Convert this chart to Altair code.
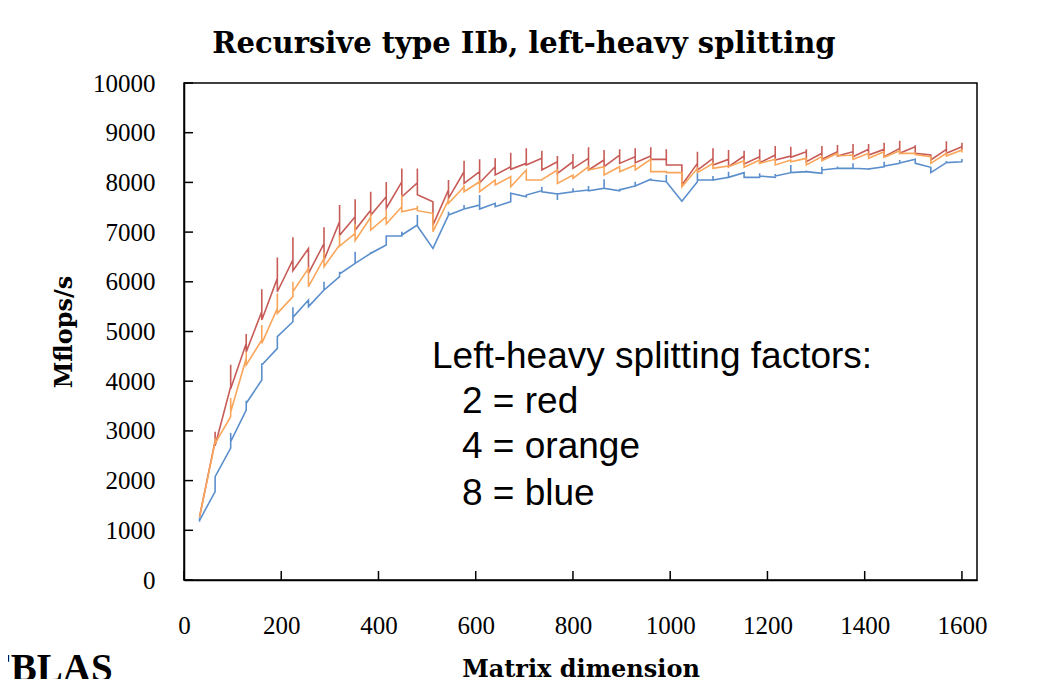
import altair as alt
import pandas as pd

# Matrix dimensions (x)
dims = [32, 64, 96, 128, 160, 192, 224, 256, 288, 320, 352, 384, 416, 448, 480, 512,
        544, 576, 608, 640, 672, 704, 736, 768, 800, 832, 864, 896, 928, 960, 992, 1024,
        1056, 1088, 1120, 1152, 1184, 1216, 1248, 1280, 1312, 1344, 1376, 1408, 1440, 1472,
        1504, 1536, 1568, 1600]

# Splitting factor 2 (red): value before, at, and after each dimension
red_pre = [1270, 2800, 3890, 4760, 5400, 6070, 6440, 6670, 6770, 7210, 7310, 7440, 7710, 8010, 7990, 7610,
           7850, 8216, 8216, 8316, 8316, 8383, 8484, 8416, 8416, 8484, 8451, 8551, 8518, 8531, 8464, 8350,
           8383, 8484, 8464, 8531, 8518, 8551, 8531, 8618, 8585, 8618, 8618, 8665, 8665, 8685,
           8719, 8551, 8665, 8719]
red_peak = [1270, 2985, 4330, 4950, 5850, 6490, 6895, 6670, 7100, 7545, 7660, 7810, 8010, 8280, 8280, 7610,
            8050, 8437, 8464, 8484, 8598, 8685, 8638, 8531, 8571, 8706, 8652, 8665, 8685, 8706, 8665, 8350,
            8618, 8685, 8652, 8638, 8665, 8732, 8718, 8665, 8732, 8752, 8772, 8772, 8799, 8839,
            8750, 8551, 8826, 8800]
red_post = [1270, 2700, 3850, 4590, 5230, 5800, 6225, 6170, 6440, 6935, 7040, 7340, 7480, 7710, 7750, 7140,
            7680, 7980, 7994, 8149, 8263, 8350, 8249, 8183, 8283, 8249, 8316, 8383, 8397, 8464, 8350, 7948,
            8249, 8350, 8316, 8370, 8397, 8451, 8504, 8417, 8464, 8531, 8518, 8551, 8518, 8585,
            8585, 8451, 8585, 8650]

# Splitting factor 4 (orange)
orange_pre = [1270, 2780, 3286, 4460, 4829, 5466, 5701, 6271, 6472, 6740, 6975, 7300, 7310, 7511, 7478, 7378,
              7646, 7913, 8014, 8048, 8115, 8249, 8048, 8249, 8149, 8316, 8316, 8316, 8350, 8464, 8216, 8196,
              8283, 8383, 8330, 8437, 8451, 8464, 8451, 8484, 8518, 8585, 8551, 8585, 8618, 8638,
              8585, 8518, 8585, 8652]
orange_peak = [1270, 2850, 3662, 4594, 5131, 5768, 6003, 6271, 6606, 6940, 7163, 7380, 7444, 7746, 7530, 7378,
               7680, 7950, 8050, 8048, 8115, 8249, 8060, 8249, 8149, 8316, 8316, 8316, 8350, 8464, 8216, 8196,
               8283, 8383, 8330, 8437, 8451, 8464, 8451, 8484, 8518, 8585, 8551, 8585, 8618, 8638,
               8585, 8518, 8585, 8652]
orange_post = [1270, 2750, 3380, 4326, 4762, 5365, 5801, 5902, 6304, 6720, 6827, 7042, 7163, 7411, 7431, 7008,
               7579, 7813, 7813, 7948, 7913, 8048, 8055, 7980, 8082, 8249, 8149, 8216, 8249, 8216, 8196, 7913,
               8196, 8283, 8316, 8303, 8383, 8350, 8417, 8350, 8437, 8531, 8464, 8484, 8504, 8585,
               8560, 8383, 8531, 8600]

# Splitting factor 8 (blue)
blue_pre = [1260, 1780, 2655, 3420, 4024, 4661, 5197, 5634, 5835, 6103, 6372, 6573, 6740, 6922, 7143, 6673,
            7344, 7465, 7545, 7579, 7612, 7712, 7833, 7767, 7813, 7847, 7880, 7833, 7928, 8062, 8014, 7620,
            8014, 8048, 8102, 8196, 8102, 8102, 8196, 8216, 8183, 8283, 8283, 8270, 8316, 8383,
            8464, 8303, 8397, 8417]
blue_peak = [1170, 2080, 2958, 3608, 4360, 4909, 5486, 5634, 6003, 6204, 6606, 6600, 6922, 7008, 7344, 6673,
             7411, 7545, 7746, 7579, 7780, 7712, 7913, 7646, 7880, 7928, 8062, 7870, 8014, 8062, 8149, 7620,
             8183, 8129, 8216, 8196, 8183, 8170, 8350, 8240, 8316, 8320, 8383, 8250, 8417, 8450,
             8464, 8303, 8430, 8470]
blue_post = [1200, 2080, 2783, 3555, 4326, 4896, 5285, 5500, 5835, 6157, 6372, 6573, 6922, 6942, 7123, 6673,
             7344, 7465, 7465, 7512, 7780, 7746, 7813, 7767, 7813, 7833, 7880, 7850, 7928, 8048, 8014, 7620,
             8048, 8048, 8102, 8102, 8129, 8129, 8196, 8216, 8250, 8283, 8283, 8270, 8330, 8390,
             8383, 8196, 8397, 8440]

x_ticks = [0, 200, 400, 600, 800, 1000, 1200, 1400, 1600]
y_ticks = [0, 1000, 2000, 3000, 4000, 5000, 6000, 7000, 8000, 9000, 10000]

series_names = ["2", "4", "8"]
series_colors = ["#C65B57", "#F9A65A", "#5B8FCC"]

rows = []
for name, pre, peak, post in [("2", red_pre, red_peak, red_post),
                              ("4", orange_pre, orange_peak, orange_post),
                              ("8", blue_pre, blue_peak, blue_post)]:
    for i, d in enumerate(dims):
        rows.append({"series": name, "x": d, "y": pre[i], "o": 3 * i})
        rows.append({"series": name, "x": d, "y": peak[i], "o": 3 * i + 1})
        rows.append({"series": name, "x": d, "y": post[i], "o": 3 * i + 2})
df = pd.DataFrame(rows)

W, H = 793, 497
xscale = alt.Scale(domain=[0, 1631], nice=False, zero=False)
yscale = alt.Scale(domain=[0, 10000], nice=False)

axis_common = dict(ticks=False, grid=False, title=None, format="d", labelFlush=False,
                   labelFont="Liberation Serif", labelFontSize=25, labelColor="black",
                   domainColor="black", domainWidth=1.5)

lines = alt.Chart(df).mark_line(strokeWidth=1.6).encode(
    x=alt.X("x:Q", scale=xscale,
            axis=alt.Axis(values=x_ticks, labelPadding=33, **axis_common)),
    y=alt.Y("y:Q", scale=yscale,
            axis=alt.Axis(values=y_ticks, labelPadding=29, **axis_common)),
    color=alt.Color("series:N", scale=alt.Scale(domain=series_names, range=series_colors), legend=None),
    order="o:Q",
)

yt = alt.Chart(pd.DataFrame({"v": y_ticks})).mark_rule(color="black", strokeWidth=1.5).encode(
    y=alt.Y("v:Q", scale=yscale), x=alt.value(0), x2=alt.value(9))
xt = alt.Chart(pd.DataFrame({"v": x_ticks})).mark_rule(color="black", strokeWidth=1.5).encode(
    x=alt.X("v:Q", scale=xscale), y=alt.value(H), y2=alt.value(H - 9))

one = pd.DataFrame({"t": [""]})

def label(text, x, y, font, size, weight="normal", angle=0, align="left"):
    return alt.Chart(one).mark_text(text=text, font=font, fontSize=size, fontWeight=weight,
                                    angle=angle, align=align, baseline="alphabetic",
                                    color="black").encode(x=alt.value(x), y=alt.value(y))

title = label("Recursive type IIb, left-heavy splitting", 340, -30, "DejaVu Serif", 29, "bold", align="center")
ytitle = alt.Chart(one).mark_text(text="Mflops/s", font="DejaVu Serif", fontSize=24, fontWeight="bold",
                                  angle=270, align="center", baseline="middle", color="black").encode(
    x=alt.value(-119), y=alt.value(249))
xtitle = label("Matrix dimension", 397, 594, "DejaVu Serif", 24, "bold", align="center")
blas = label("FBLAS", -197, 598, "Liberation Serif", 39, "bold")

a1 = label("Left-heavy splitting factors:", 248, 285, "Liberation Sans", 37)
a2 = label("2 = red", 278, 330, "Liberation Sans", 37)
a3 = label("4 = orange", 278, 375, "Liberation Sans", 37)
a4 = label("8 = blue", 278, 422, "Liberation Sans", 37)

chart = alt.layer(lines, yt, xt, title, ytitle, xtitle, blas, a1, a2, a3, a4).properties(
    width=W, height=H,
    autosize=alt.AutoSizeParams(type="none"),
    padding={"left": 176, "top": 75, "right": 60, "bottom": 110},
).configure_view(stroke="black", strokeWidth=1.5)

chart.save("out.html", embed_options={"renderer": "svg", "actions": False})
